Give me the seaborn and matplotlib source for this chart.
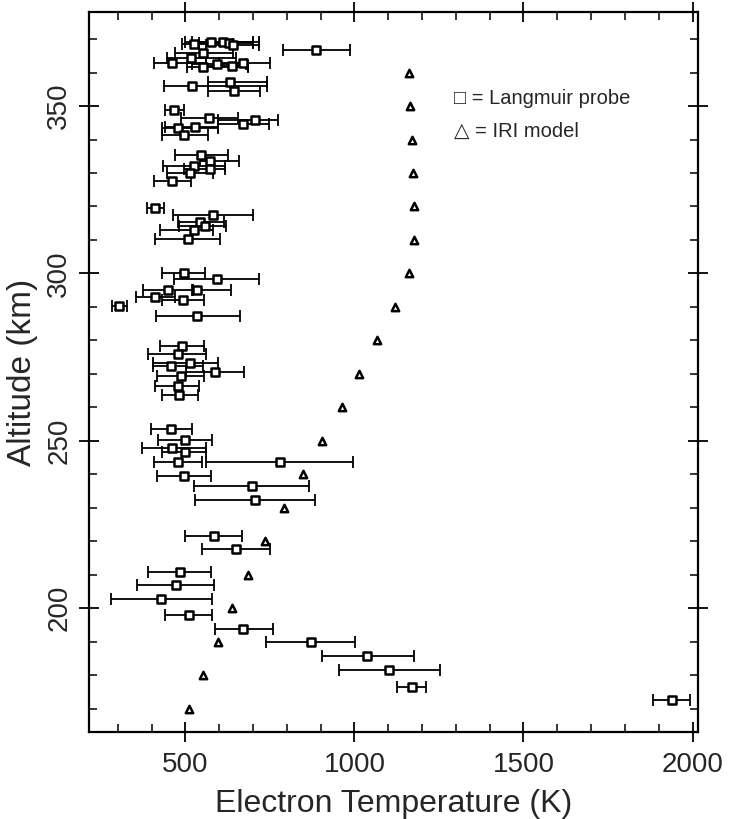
import matplotlib
matplotlib.use("Agg")
import matplotlib.pyplot as plt
from matplotlib.ticker import MultipleLocator
import seaborn as sns
import pandas as pd

# Langmuir probe measurements: altitude (km), Te (K), error bar low/high (K)
lp_alt = [369.0, 368.4, 369.0, 368.8, 368.1, 366.7, 365.9, 364.4, 362.9, 362.9,
          362.6, 361.7, 361.9, 357.2, 355.9, 354.6, 348.7, 346.5, 345.7, 344.5,
          343.5, 343.7, 341.5, 335.5, 333.5, 332.0, 331.2, 329.9, 327.6, 319.6,
          317.6, 315.4, 314.1, 312.9, 310.4, 300.2, 298.2, 295.2, 295.2, 293.0,
          292.0, 290.4, 287.3, 278.3, 275.8, 273.3, 272.3, 270.5, 269.5, 266.4,
          263.6, 253.6, 250.4, 247.8, 246.8, 243.8, 243.8, 239.6, 236.5, 232.3,
          221.6, 217.8, 210.7, 206.9, 202.8, 198.0, 193.8, 189.9, 185.9, 181.7,
          176.6, 172.5]
lp_te = [576, 527, 610, 628, 640, 887, 553, 517, 462, 672,
         594, 551, 637, 632, 520, 643, 467, 571, 707, 670,
         477, 530, 497, 546, 574, 527, 574, 514, 461, 411,
         581, 543, 558, 527, 507, 495, 593, 448, 536, 411,
         492, 305, 536, 489, 477, 514, 458, 588, 487, 477,
         482, 458, 498, 462, 498, 479, 780, 497, 696, 706,
         586, 650, 484, 471, 429, 510, 672, 872, 1038, 1102,
         1169, 1938]
lp_lo = [500, 489, 520, 540, 560, 788, 470, 446, 406, 600,
         520, 506, 560, 566, 438, 566, 440, 487, 598, 596,
         431, 440, 431, 470, 544, 435, 497, 445, 406, 388,
         465, 477, 480, 425, 411, 431, 467, 374, 520, 355,
         431, 284, 413, 425, 391, 403, 405, 502, 415, 411,
         430, 399, 418, 371, 431, 408, 561, 415, 525, 529,
         499, 549, 391, 357, 280, 439, 589, 739, 903, 954,
         1126, 1884]
lp_hi = [700, 640, 717, 700, 717, 988, 640, 650, 560, 749,
         680, 684, 684, 743, 743, 721, 497, 657, 775, 746,
         596, 596, 566, 625, 660, 618, 618, 581, 517, 436,
         699, 615, 620, 581, 604, 557, 717, 522, 635, 470,
         554, 328, 662, 554, 561, 596, 551, 675, 554, 539,
         538, 519, 578, 561, 561, 549, 995, 576, 865, 882,
         669, 749, 576, 584, 578, 580, 758, 1002, 1175, 1254,
         1212, 1991]

# IRI model profile
iri_alt = [170, 180, 190, 200, 210, 220, 230, 240, 250, 260,
           270, 280, 290, 300, 310, 320, 330, 340, 350, 360]
iri_te = [512, 553, 598, 639, 686, 737, 793, 849, 905, 962,
          1015, 1068, 1121, 1160, 1175, 1175, 1172, 1169, 1163, 1160]

lp = pd.DataFrame({"alt": lp_alt, "te": lp_te, "lo": lp_lo, "hi": lp_hi})
iri = pd.DataFrame({"alt": iri_alt, "te": iri_te})

sns.set_style("ticks")
plt.rcParams['font.family'] = ['Liberation Sans', 'DejaVu Sans']

fig = plt.figure(figsize=(7.29, 8.19), dpi=100)
ax = fig.add_axes([0.122, 0.106, 0.835, 0.879])

# error bars
ax.errorbar(lp["te"], lp["alt"],
            xerr=[lp["te"] - lp["lo"], lp["hi"] - lp["te"]],
            fmt="none", ecolor="black", elinewidth=1.3, capsize=4, capthick=1.3)

sns.scatterplot(data=lp, x="te", y="alt", marker="s", s=34,
                facecolor="white", edgecolor="black", linewidth=1.8, ax=ax, zorder=3)
sns.scatterplot(data=iri, x="te", y="alt", marker="^", s=28,
                facecolor="white", edgecolor="black", linewidth=1.8, ax=ax, zorder=3)

ax.set_xlim(215, 2015)
ax.set_ylim(163, 378)
ax.xaxis.set_major_locator(MultipleLocator(500))
ax.xaxis.set_minor_locator(MultipleLocator(100))
ax.yaxis.set_major_locator(MultipleLocator(50))
ax.yaxis.set_minor_locator(MultipleLocator(10))
ax.tick_params(which="both", top=True, right=True, color="black")
ax.tick_params(which="major", direction="inout", length=14, width=1.3, labelsize=20)
ax.tick_params(which="minor", direction="in", length=6, width=1.1)
ax.tick_params(axis="x", which="major", pad=7)
ax.tick_params(axis="y", which="major", pad=5)
for lbl in ax.get_yticklabels():
    lbl.set_rotation(90)
    lbl.set_va("center")
for s in ax.spines.values():
    s.set_linewidth(1.6)
    s.set_color("black")

ax.set_xlabel("Electron Temperature (K)", fontsize=23, labelpad=8)
ax.set_ylabel("Altitude (km)", fontsize=24, labelpad=6)

ax.text(0.60, 0.88, "\u25a1 = Langmuir probe", transform=ax.transAxes,
        fontsize=14.5, va="center", ha="left")
ax.text(0.60, 0.835, "\u25b3 = IRI model", transform=ax.transAxes,
        fontsize=14.5, va="center", ha="left")

plt.savefig("out.png", dpi=100)
